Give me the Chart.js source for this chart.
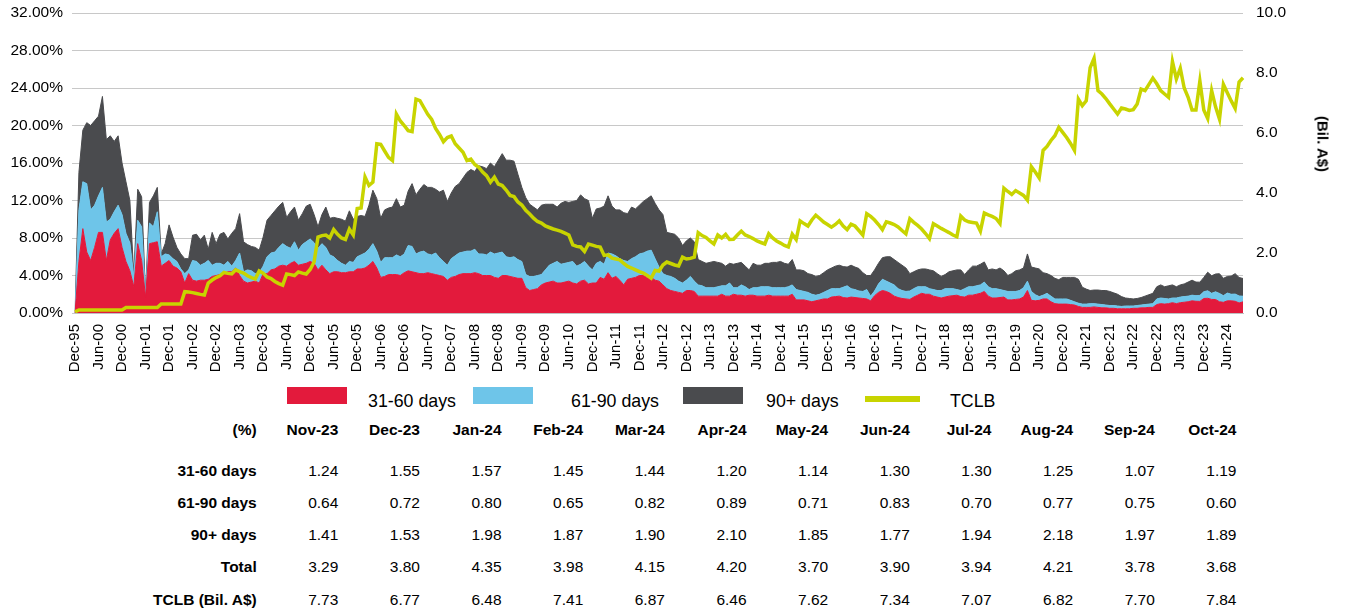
<!DOCTYPE html>
<html>
<head>
<meta charset="utf-8">
<script src="https://cdn.jsdelivr.net/npm/chart.js@4.4.1/dist/chart.umd.min.js"></script>
<style>
  html, body { margin: 0; padding: 0; background: #fff; }
  body { width: 1346px; height: 611px; position: relative; overflow: hidden;
         font-family: "Liberation Sans", Arial, sans-serif; color: #000; }
  #wrap { position: absolute; left: 0; top: 0; width: 1346px; height: 380px; }
  .axis-title { position: absolute; left: 1323px; top: 144px; font-weight: bold; font-size: 15px;
                white-space: nowrap; transform: translate(-50%, -50%) rotate(90deg); }
  .lg-box { position: absolute; top: 387px; width: 60px; height: 17px; }
  .lg-line { position: absolute; top: 396px; width: 55px; height: 6px; }
  .lg-txt { position: absolute; top: 390px; font-size: 17.8px; line-height: 22px; white-space: nowrap; }
  .cell { position: absolute; width: 140px; text-align: right; font-size: 15.5px; line-height: 20px; white-space: nowrap; }
  .cell.b { font-weight: bold; }
</style>
</head>
<body>
<div id="wrap"><canvas id="chart" width="1346" height="380"></canvas></div>
<div class="axis-title">(Bil. A$)</div>
<div id="legend"></div>
<div id="table"></div>
<script>
// kleuren
const RED = "#e31a3c";
const BLUE = "#6ec5e9";
const DARK = "#4a4b4e";
const GREEN = "#c8d400";

// categorieen: Dec-95, daarna maandelijks Jan-00 .. Oct-24
const MONTHS = ["Jan","Feb","Mar","Apr","May","Jun","Jul","Aug","Sep","Oct","Nov","Dec"];
const labels = ["Dec-95"];
for (let y = 2000; y <= 2024; y++) {
  for (let m = 0; m < 12; m++) {
    if (y === 2024 && m > 9) break;
    labels.push(MONTHS[m] + "-" + String(y).slice(2));
  }
}

// 31-60 days (%)
const d3160 = [0,
  5.5, 9.0, 6.5, 5.6, 7.0, 8.6, 8.6, 5.6, 7.8, 8.5, 9.0, 7.0,
  5.5, 4.5, 2.8, 7.4, 5.6, 1.7, 7.4, 7.5, 7.6, 5.0, 5.3, 5.6,
  5.0, 4.8, 4.4, 3.2, 4.2, 3.5, 3.4, 3.5, 3.5, 3.6, 3.9, 4.0,
  4.1, 4.2, 4.4, 4.4, 4.8, 4.0, 3.4, 3.2, 3.3, 3.4, 3.2, 4.2,
  4.2, 4.6, 4.7, 5.0, 5.1, 5.0, 5.3, 5.5, 5.1, 5.2, 5.3, 5.5,
  5.3, 4.6, 5.1, 4.6, 4.2, 4.4, 4.4, 4.3, 4.3, 4.4, 4.4, 4.7,
  4.7, 4.8, 5.1, 5.5, 4.8, 3.8, 3.9, 4.1, 4.1, 4.1, 4.0, 4.3,
  4.5, 4.4, 4.3, 4.2, 4.2, 4.3, 4.2, 4.1, 4.0, 3.9, 3.5, 3.8,
  3.9, 4.1, 4.2, 4.2, 4.2, 4.3, 4.2, 4.0, 4.0, 4.0, 3.8, 3.7,
  4.0, 4.0, 3.9, 3.8, 3.7, 3.7, 2.7, 2.4, 2.5, 2.6, 3.0, 3.2,
  3.3, 3.4, 3.2, 3.2, 3.3, 3.4, 3.2, 3.1, 3.4, 3.5, 3.1, 3.2,
  3.2, 3.8, 3.6, 4.3, 3.7, 3.9, 3.5, 3.0, 3.6, 3.7, 3.8, 4.0,
  4.0, 3.8, 3.8, 3.5, 3.4, 3.0, 2.6, 2.4, 2.3, 2.2, 2.1, 2.4,
  2.4, 2.3, 1.8, 1.8, 1.8, 1.8, 1.8, 1.8, 2.0, 1.8, 1.8, 2.0,
  1.9, 1.9, 1.8, 1.9, 1.9, 1.8, 1.8, 1.8, 1.9, 1.8, 1.8, 1.8,
  1.8, 1.8, 2.0, 1.4, 1.4, 1.4, 1.3, 1.2, 1.3, 1.4, 1.5, 1.5,
  1.7, 1.75, 1.8, 1.65, 1.6, 1.7, 1.65, 1.6, 1.55, 1.5, 1.3, 1.85,
  2.2, 2.4, 2.3, 2.1, 1.8, 1.65, 1.55, 1.5, 1.45, 1.7, 1.9, 2.1,
  2.0, 2.0, 1.8, 1.7, 1.6, 1.7, 1.8, 1.85, 1.9, 1.75, 1.7, 1.9,
  1.9, 2.0, 2.1, 2.3, 1.8, 1.6, 1.6, 1.65, 1.7, 1.4, 1.4, 1.45,
  1.5, 1.7, 2.4, 1.35, 1.3, 1.35, 1.5, 1.5, 1.2, 1.0, 0.95, 0.95,
  0.95, 0.9, 0.85, 0.7, 0.6, 0.6, 0.6, 0.65, 0.6, 0.55, 0.55, 0.5,
  0.5, 0.45, 0.45, 0.45, 0.45, 0.5, 0.5, 0.55, 0.55, 0.6, 0.6, 0.9,
  1.0, 0.95, 1.0, 1.1, 1.0, 1.1, 1.15, 1.2, 1.3, 1.25, 1.24, 1.55,
  1.57, 1.45, 1.44, 1.20, 1.14, 1.30, 1.30, 1.25, 1.07, 1.19
];

// 61-90 days (%)
const d6190 = [0,
  5.5, 5.0, 7.3, 5.4, 4.5, 3.9, 4.8, 4.1, 2.2, 2.3, 2.5, 3.5,
  3.0, 3.0, 1.1, 2.5, 3.6, 0.2, 2.2, 1.7, 3.2, 1.0, 1.0, 0.6,
  0.8, 0.7, 0.3, 1.0, 0.4, 2.1, 2.1, 1.6, 1.8, 2.0, 1.2, 1.3,
  1.2, 0.9, 1.1, 0.6, 0.8, 2.4, 1.0, 1.4, 1.2, 0.8, 1.1, 0.8,
  1.8, 1.8, 1.8, 2.0, 2.3, 2.1, 1.6, 2.1, 1.6, 2.1, 2.3, 2.4,
  2.2, 2.3, 2.3, 2.4, 2.0, 1.6, 1.2, 1.0, 0.8, 1.1, 1.0, 1.3,
  1.5, 1.6, 1.7, 1.9, 1.8, 1.6, 2.0, 1.8, 1.8, 2.1, 2.0, 2.0,
  2.7, 2.7, 2.0, 2.3, 2.4, 2.0, 2.0, 2.3, 1.9, 1.6, 1.6, 2.0,
  2.2, 2.3, 2.3, 2.4, 2.4, 2.5, 2.1, 2.3, 2.2, 2.5, 2.5, 2.7,
  2.5, 2.0, 2.0, 2.2, 2.0, 1.8, 1.4, 1.5, 1.4, 1.4, 1.1, 1.4,
  1.8, 1.9, 2.3, 2.0, 2.0, 2.0, 2.3, 1.9, 1.8, 2.0, 1.9, 1.4,
  2.1, 1.7, 1.6, 2.1, 2.6, 2.2, 2.3, 2.6, 1.9, 2.1, 2.2, 2.3,
  2.4, 2.8, 2.9, 2.3, 1.5, 1.2, 1.4, 1.5, 1.4, 1.2, 1.1, 1.1,
  1.5, 1.1, 1.2, 1.1, 0.9, 0.9, 0.9, 1.0, 0.9, 1.1, 1.4, 0.7,
  0.8, 1.1, 1.0, 0.6, 0.8, 0.9, 1.0, 1.0, 0.9, 0.9, 0.9, 0.9,
  0.9, 1.0, 1.0, 1.1, 1.0, 0.9, 0.9, 0.8, 0.6, 0.6, 0.7, 0.9,
  0.9, 0.85, 0.8, 1.1, 1.3, 0.9, 0.85, 0.75, 0.75, 1.0, 0.5, 0.5,
  0.9, 1.2, 1.1, 1.1, 1.2, 0.95, 0.85, 0.8, 0.9, 0.9, 0.9, 0.7,
  0.8, 0.6, 0.7, 0.7, 0.8, 0.9, 0.8, 0.75, 0.6, 0.65, 0.9, 0.9,
  0.9, 0.9, 0.9, 1.0, 1.0, 1.0, 1.0, 0.85, 0.7, 0.9, 0.9, 0.85,
  0.9, 1.0, 1.0, 0.95, 0.65, 0.4, 0.4, 0.6, 0.6, 0.5, 0.55, 0.55,
  0.55, 0.45, 0.35, 0.35, 0.35, 0.35, 0.4, 0.35, 0.35, 0.35, 0.3, 0.3,
  0.3, 0.3, 0.25, 0.3, 0.3, 0.25, 0.3, 0.3, 0.35, 0.35, 0.4, 0.6,
  0.6, 0.6, 0.5, 0.5, 0.6, 0.6, 0.6, 0.6, 0.6, 0.6, 0.64, 0.72,
  0.80, 0.65, 0.82, 0.89, 0.71, 0.83, 0.70, 0.77, 0.75, 0.60
];

// 90+ days (%)
const d90p = [0,
  4.0, 5.5, 6.5, 9.0, 9.0, 8.5, 9.7, 8.8, 8.9, 7.5, 7.4, 5.5,
  5.5, 4.5, 0.1, 3.3, 3.2, 0.1, 2.2, 3.3, 2.6, 0.3, 1.1, 3.2,
  2.3, 1.5, 1.6, 1.6, 1.2, 2.7, 2.9, 2.7, 3.0, 1.2, 3.5, 2.1,
  3.1, 3.5, 2.4, 3.5, 3.4, 4.2, 3.2, 2.7, 2.6, 2.8, 2.4, 3.1,
  3.9, 4.0, 4.4, 4.4, 4.4, 3.1, 3.9, 3.7, 3.2, 3.3, 3.8, 3.7,
  3.0, 2.3, 3.1, 4.3, 3.9, 4.2, 4.5, 4.7, 4.7, 5.4, 4.6, 4.3,
  4.2, 3.9, 4.7, 5.7, 5.6, 4.7, 5.1, 5.3, 5.4, 6.0, 5.3, 5.2,
  5.8, 6.7, 6.3, 6.7, 7.1, 7.1, 7.2, 6.8, 7.0, 7.6, 6.8, 7.0,
  7.4, 7.4, 7.9, 8.4, 8.7, 8.3, 9.4, 9.3, 9.2, 9.5, 9.3, 9.9,
  10.5, 10.3, 10.4, 10.2, 9.1, 7.9, 8.2, 7.7, 7.4, 7.0, 7.4, 7.0,
  6.5, 6.3, 5.8, 6.5, 6.6, 6.4, 6.4, 7.0, 7.4, 6.7, 7.0, 5.5,
  5.8, 5.7, 6.2, 6.1, 5.1, 4.9, 5.2, 5.1, 5.1, 5.5, 5.1, 5.2,
  5.5, 5.6, 5.8, 5.9, 6.1, 6.3, 4.6, 4.6, 4.7, 4.6, 4.0, 4.2,
  4.1, 4.2, 2.7, 2.6, 2.6, 2.7, 2.8, 2.6, 2.4, 2.1, 2.1, 2.5,
  2.6, 2.4, 2.2, 2.1, 2.6, 2.4, 2.3, 2.5, 2.5, 2.7, 2.7, 2.8,
  2.6, 2.4, 2.7, 2.1, 2.2, 2.2, 2.0, 2.1, 2.0, 2.0, 2.1, 2.2,
  2.2, 2.4, 2.5, 2.2, 2.0, 2.5, 2.4, 2.4, 2.0, 1.5, 2.2, 2.25,
  2.2, 2.3, 2.6, 2.8, 2.7, 2.8, 2.7, 2.5, 1.85, 1.8, 1.8, 1.9,
  1.9, 2.0, 2.0, 1.8, 1.5, 1.5, 1.8, 1.9, 2.1, 2.2, 1.5, 1.8,
  2.2, 2.1, 2.2, 2.15, 1.8, 2.1, 2.0, 2.3, 2.1, 1.7, 1.9, 2.2,
  2.2, 2.1, 2.9, 2.6, 2.85, 2.95, 2.4, 2.1, 2.2, 2.2, 2.05, 2.3,
  2.3, 2.45, 2.6, 2.55, 1.8, 1.6, 1.4, 1.45, 1.5, 1.5, 1.55, 1.5,
  1.35, 1.25, 1.05, 0.85, 0.8, 0.75, 0.75, 0.8, 0.9, 1.0, 1.1, 1.3,
  1.4, 1.25, 1.4, 1.4, 1.2, 1.3, 1.35, 1.5, 1.6, 1.45, 1.41, 1.53,
  1.98, 1.87, 1.90, 2.10, 1.85, 1.77, 1.94, 2.18, 1.97, 1.89
];

// TCLB (Bil. A$)
const tclb = [0.04,
  0.10, 0.10, 0.10, 0.10, 0.10, 0.10, 0.10, 0.10, 0.10, 0.10, 0.10, 0.10,
  0.18, 0.18, 0.18, 0.18, 0.18, 0.18, 0.18, 0.18, 0.18, 0.30, 0.30, 0.30,
  0.30, 0.30, 0.30, 0.71, 0.70, 0.68, 0.65, 0.62, 0.60, 1.00, 1.10, 1.18,
  1.24, 1.35, 1.32, 1.30, 1.44, 1.38, 1.33, 1.24, 1.18, 1.13, 1.40, 1.33,
  1.20, 1.15, 1.05, 0.98, 0.93, 1.30, 1.28, 1.25, 1.37, 1.33, 1.30, 1.45,
  1.70, 2.53, 2.58, 2.60, 2.50, 2.78, 2.62, 2.50, 2.45, 2.80, 2.60, 3.48,
  3.50, 4.53, 4.25, 4.36, 5.64, 5.62, 5.40, 5.19, 5.08, 6.63, 6.40, 6.25,
  6.08, 6.05, 7.13, 7.08, 6.85, 6.62, 6.45, 6.15, 5.95, 5.71, 5.85, 5.90,
  5.64, 5.50, 5.36, 5.08, 5.13, 4.95, 4.86, 4.70, 4.58, 4.36, 4.53, 4.30,
  4.25, 4.10, 3.92, 3.88, 3.70, 3.60, 3.42, 3.30, 3.16, 3.05, 3.00, 2.90,
  2.85, 2.80, 2.76, 2.72, 2.66, 2.60, 2.27, 2.22, 2.20, 2.05, 2.30, 2.26,
  2.22, 2.20, 1.92, 1.94, 1.83, 1.80, 1.77, 1.65, 1.55, 1.50, 1.44, 1.38,
  1.33, 1.25, 1.16, 1.42, 1.40, 1.60, 1.70, 1.65, 1.60, 1.57, 1.86, 1.80,
  1.82, 1.86, 2.68, 2.58, 2.52, 2.40, 2.30, 2.60, 2.50, 2.62, 2.45, 2.46,
  2.60, 2.73, 2.60, 2.55, 2.48, 2.40, 2.35, 2.30, 2.64, 2.50, 2.40, 2.33,
  2.25, 2.20, 2.63, 2.45, 3.07, 2.98, 2.90, 3.10, 3.26, 3.15, 3.03, 2.95,
  2.86, 2.95, 3.07, 2.90, 2.78, 2.96, 2.90, 2.75, 2.60, 3.31, 3.22, 3.10,
  2.95, 2.78, 3.04, 3.00, 2.95, 2.87, 2.75, 2.64, 3.14, 3.02, 2.92, 2.80,
  2.65, 2.48, 2.98, 2.90, 2.82, 2.75, 2.68, 2.60, 2.54, 3.23, 3.10, 3.04,
  3.02, 3.00, 2.73, 3.33, 3.27, 3.22, 3.15, 2.98, 4.16, 4.05, 3.95, 4.08,
  4.00, 3.92, 3.76, 4.88, 4.70, 4.50, 5.42, 5.55, 5.75, 5.91, 6.19, 6.02,
  5.85, 5.65, 5.42, 7.13, 6.91, 7.07, 8.18, 8.49, 7.41, 7.30, 7.15, 6.97,
  6.80, 6.63, 6.83, 6.80, 6.75, 6.78, 6.97, 7.46, 7.41, 7.62, 7.83, 7.64,
  7.41, 7.30, 7.19, 8.38, 7.80, 8.16, 7.50, 7.19, 6.77, 6.77, 7.73, 6.77,
  6.48, 7.41, 6.87, 6.46, 7.62, 7.34, 7.07, 6.82, 7.70, 7.84
];

// "Total" rij van de tabel (Nov-23 .. Oct-24), zoals gepubliceerd
const totalRow = [3.29, 3.80, 4.35, 3.98, 4.15, 4.20, 3.70, 3.90, 3.94, 4.21, 3.78, 3.68];

const FONT = "'Liberation Sans', Arial, sans-serif";

function areaSet(label, data, color, fill) {
  return {
    label, data, yAxisID: "y", fill,
    backgroundColor: color, borderColor: color, borderWidth: 1,
    pointRadius: 0, tension: 0, order: 1
  };
}

// geen extra ruimte boven/onder de y-assen (anders schuift het plotvlak omlaag)
const noPad = s => { s.paddingTop = 0; s.paddingBottom = 0; };

new Chart(document.getElementById("chart"), {
  type: "line",
  data: {
    labels,
    datasets: [
      { label: "TCLB", data: tclb, yAxisID: "y2", fill: false, borderColor: GREEN,
        borderWidth: 3.5, pointRadius: 0, tension: 0, order: 0 },
      areaSet("31-60 days", d3160, RED, "origin"),
      areaSet("61-90 days", d6190, BLUE, "-1"),
      areaSet("90+ days", d90p, DARK, "-1"),
    ]
  },
  options: {
    responsive: false,
    animation: false,
    devicePixelRatio: 1,
    layout: { padding: { top: 13, right: 0, bottom: 0, left: 0 } },
    plugins: { legend: { display: false }, tooltip: { enabled: false } },
    scales: {
      x: {
        grid: { display: false },
        border: { display: true, color: "#c0c0c0" },
        ticks: {
          autoSkip: false, maxRotation: 90, minRotation: 90, padding: 3,
          color: "#000", font: { family: FONT, size: 15 },
          callback: (v, i) => (i % 6 === 0 ? labels[i] : "")
        },
        afterFit: s => { s.height = 67; }
      },
      y: {
        stacked: true, min: 0, max: 32,
        ticks: { stepSize: 4, padding: 9, color: "#000", font: { family: FONT, size: 15.5 },
                 callback: v => v.toFixed(2) + "%" },
        grid: { color: "#c8c8c8", tickLength: 3 },
        border: { display: false },
        afterFit: s => { s.width = 75; noPad(s); }
      },
      y2: {
        position: "right", min: 0, max: 10,
        ticks: { stepSize: 2, padding: 13, color: "#000", font: { family: FONT, size: 15.5 },
                 callback: v => v.toFixed(1) },
        grid: { display: false, drawTicks: false },
        border: { display: false },
        afterFit: s => { s.width = 103; noPad(s); }
      }
    }
  }
});

// legenda
const legendEl = document.getElementById("legend");
legendEl.innerHTML = `
  <div class="lg-box" style="left:287px;background:${RED}"></div>
  <div class="lg-txt" style="left:368px">31-60 days</div>
  <div class="lg-box" style="left:473px;background:${BLUE}"></div>
  <div class="lg-txt" style="left:571px">61-90 days</div>
  <div class="lg-box" style="left:683px;background:${DARK}"></div>
  <div class="lg-txt" style="left:766px">90+ days</div>
  <div class="lg-line" style="left:865px;background:${GREEN}"></div>
  <div class="lg-txt" style="left:950px">TCLB</div>
`;

// tabel met de laatste 12 maanden
const n = labels.length;
const last = k => labels.slice(n - 12).map((_, j) => k(n - 12 + j, j));
const rows = [
  { name: "31-60 days", vals: last(i => d3160[i].toFixed(2)) },
  { name: "61-90 days", vals: last(i => d6190[i].toFixed(2)) },
  { name: "90+ days", vals: last(i => d90p[i].toFixed(2)) },
  { name: "Total", vals: last((i, j) => totalRow[j].toFixed(2)) },
  { name: "TCLB (Bil. A$)", vals: last(i => tclb[i].toFixed(2)) },
];
const rowY = [470, 502, 534.3, 566.7, 599];
const colRight = j => 338.3 + 81.65 * j;
let html = "";
const cell = (txt, right, cy, bold) =>
  `<div class="cell${bold ? " b" : ""}" style="left:${right - 140}px;top:${cy - 9.5}px">${txt}</div>`;
html += cell("(%)", 256.7, 429.3, true);
labels.slice(n - 12).forEach((lb, j) => { html += cell(lb, colRight(j), 429.3, true); });
rows.forEach((r, ri) => {
  html += cell(r.name, 256.7, rowY[ri], true);
  r.vals.forEach((v, j) => { html += cell(v, colRight(j), rowY[ri], false); });
});
document.getElementById("table").innerHTML = html;
</script>
</body>
</html>
